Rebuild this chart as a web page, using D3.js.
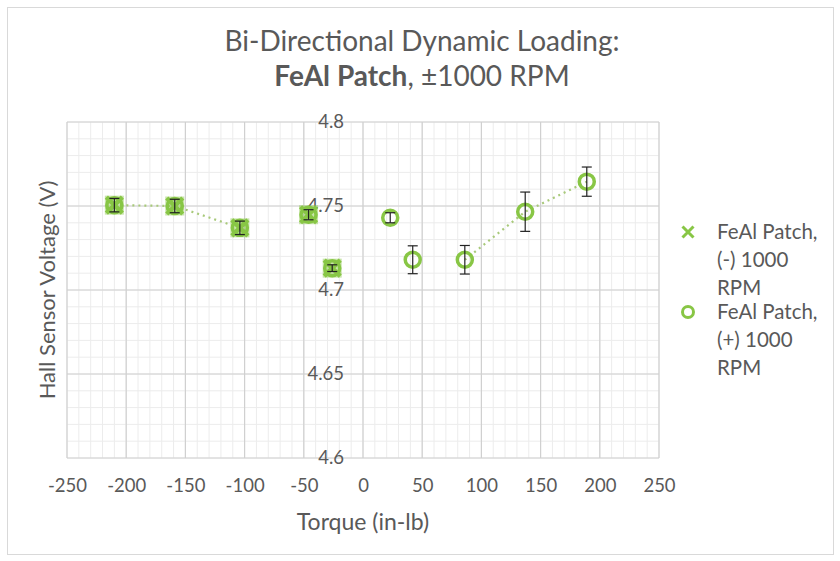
<!DOCTYPE html>
<html>
<head>
<meta charset="utf-8">
<script src="https://cdn.jsdelivr.net/npm/d3@7"></script>
<style>
  body { margin: 0; background: #fff; }
  svg { display: block; font-family: Lato, "Open Sans", sans-serif; }
</style>
</head>
<body>
<svg id="chart" width="840" height="561"></svg>
<script>
// ---- Data ----
const xTicks = [-250, -200, -150, -100, -50, 0, 50, 100, 150, 200, 250];
const xTickLabels = ["-250", "-200", "-150", "-100", "-50", "0", "50", "100", "150", "200", "250"];
const yTicks = [4.6, 4.65, 4.7, 4.75, 4.8];
const yTickLabels = ["4.6", "4.65", "4.7", "4.75", "4.8"];

// Series (-) 1000 RPM : X markers
const negTorque = [-210, -159, -104, -46, -26];
const negVoltage = [4.7505, 4.750, 4.737, 4.7448, 4.713];
const negError = [0.004, 0.004, 0.004, 0.003, 0.002];
const negLinked = [true, true, true, false, false];

// Series (+) 1000 RPM : O markers
const posTorque = [-210, -159, -104, -46, -26, 23, 42, 86, 137, 189];
const posVoltage = [4.7505, 4.750, 4.737, 4.7448, 4.713, 4.743, 4.718, 4.718, 4.7466, 4.7645];
const posError = [0.004, 0.004, 0.004, 0.003, 0.002, 0.003, 0.0083, 0.0085, 0.0117, 0.0087];
const posLinked = [false, false, false, false, false, false, false, true, true, true];

const seriesNames = [["FeAl Patch,", "(-) 1000", "RPM"], ["FeAl Patch,", "(+) 1000", "RPM"]];
const titleLine1 = "Bi-Directional Dynamic Loading:";
const titleBold = "FeAl Patch";
const titleRest = ", \u00b11000 RPM";
const xLabel = "Torque (in-lb)";
const yLabel = "Hall Sensor Voltage (V)";

// ---- Layout ----
const svg = d3.select("#chart");
const green = "#88c645";
const textColor = "#595959";
const x = d3.scaleLinear().domain([-250, 250]).range([67, 659]);
const y = d3.scaleLinear().domain([4.6, 4.8]).range([458, 122]);

// chart border
svg.append("rect").attr("x", 7.5).attr("y", 7.5).attr("width", 826).attr("height", 547)
  .attr("fill", "#fff").attr("stroke", "#d9d9d9");

// minor grid
const g = svg.append("g");
g.selectAll(".mx").data(d3.range(-250, 251, 10)).join("line")
  .attr("x1", d => x(d)).attr("x2", d => x(d)).attr("y1", y(4.6)).attr("y2", y(4.8))
  .attr("stroke", "#ececec").attr("stroke-width", 1);
g.selectAll(".my").data(d3.range(0, 21).map(i => 4.6 + i * 0.01)).join("line")
  .attr("y1", d => y(d)).attr("y2", d => y(d)).attr("x1", x(-250)).attr("x2", x(250))
  .attr("stroke", "#ececec").attr("stroke-width", 1);
// major grid
g.append("g").selectAll("line").data(xTicks).join("line")
  .attr("x1", d => x(d)).attr("x2", d => x(d)).attr("y1", y(4.6)).attr("y2", y(4.8))
  .attr("stroke", "#d0d0d0").attr("stroke-width", 1.2);
g.append("g").selectAll("line").data(yTicks).join("line")
  .attr("y1", d => y(d)).attr("y2", d => y(d)).attr("x1", x(-250)).attr("x2", x(250))
  .attr("stroke", "#d0d0d0").attr("stroke-width", 1.2);

// axes (labels only, using d3 axes)
const xAxis = svg.append("g").attr("transform", `translate(0,${y(4.6)})`)
  .call(d3.axisBottom(x).tickValues(xTicks).tickFormat((d, i) => xTickLabels[i]).tickSize(0).tickPadding(21));
xAxis.select(".domain").remove();
xAxis.selectAll("text").attr("fill", textColor).attr("font-size", 18.5).attr("font-family", "Lato, sans-serif");

const yAxis = svg.append("g").attr("transform", `translate(${x(0)},0)`)
  .call(d3.axisLeft(y).tickValues(yTicks).tickFormat((d, i) => yTickLabels[i]).tickSize(0).tickPadding(19));
yAxis.select(".domain").remove();
yAxis.selectAll("text").attr("fill", textColor).attr("font-size", 18.5).attr("font-family", "Lato, sans-serif");

// dotted connecting lines
function drawLine(tx, vy, linked) {
  const pts = tx.map((t, i) => ({ t, v: vy[i], on: linked[i] }));
  const line = d3.line().defined(d => d.on).x(d => x(d.t)).y(d => y(d.v));
  svg.append("path").attr("d", line(pts)).attr("fill", "none")
    .attr("stroke", "#a8c97a").attr("stroke-width", 2.2).attr("stroke-dasharray", "2,4");
}
drawLine(negTorque, negVoltage, negLinked);
drawLine(posTorque, posVoltage, posLinked);

// markers: circles (+)
svg.append("g").selectAll("circle").data(posTorque).join("circle")
  .attr("cx", d => x(d)).attr("cy", (d, i) => y(posVoltage[i])).attr("r", 7.5)
  .attr("fill", "none").attr("stroke", green).attr("stroke-width", 3.5);
// markers: X (-)
const xm = svg.append("g");
negTorque.forEach((t, i) => {
  const cx = x(t), cy = y(negVoltage[i]), s = 8;
  xm.append("rect").attr("x", cx - 9.5).attr("y", cy - 9.5).attr("width", 19).attr("height", 19)
    .attr("fill", green).attr("opacity", 0.45);
  xm.append("path").attr("d", `M${cx - s},${cy - s}L${cx + s},${cy + s}M${cx - s},${cy + s}L${cx + s},${cy - s}`)
    .attr("stroke", green).attr("stroke-width", 4.5);
});

// error bars
function drawErr(tx, vy, err) {
  const eg = svg.append("g").attr("stroke", "#222").attr("stroke-width", 1.2);
  tx.forEach((t, i) => {
    const cx = x(t), y1 = y(vy[i] + err[i]), y2 = y(vy[i] - err[i]);
    eg.append("line").attr("x1", cx).attr("x2", cx).attr("y1", y1).attr("y2", y2);
    eg.append("line").attr("x1", cx - 5).attr("x2", cx + 5).attr("y1", y1).attr("y2", y1);
    eg.append("line").attr("x1", cx - 5).attr("x2", cx + 5).attr("y1", y2).attr("y2", y2);
  });
}
drawErr(posTorque, posVoltage, posError);

// titles
svg.append("text").attr("x", 422).attr("y", 51).attr("text-anchor", "middle")
  .attr("fill", textColor).attr("font-size", 28).text(titleLine1);
const t2 = svg.append("text").attr("x", 422).attr("y", 86).attr("text-anchor", "middle")
  .attr("fill", textColor).attr("font-size", 28);
t2.append("tspan").attr("font-weight", "bold").text(titleBold);
t2.append("tspan").text(titleRest);

svg.append("text").attr("x", 363).attr("y", 530).attr("text-anchor", "middle")
  .attr("fill", textColor).attr("font-size", 23).text(xLabel);
svg.append("text").attr("transform", "translate(55,290) rotate(-90)").attr("text-anchor", "middle")
  .attr("fill", textColor).attr("font-size", 22).text(yLabel);

// legend
const lg = svg.append("g");
const legY = [232, 312];
seriesNames.forEach((lines, k) => {
  const cy = legY[k];
  if (k === 0) {
    const s = 5.5;
    lg.append("path").attr("d", `M${688 - s},${cy - s}L${688 + s},${cy + s}M${688 - s},${cy + s}L${688 + s},${cy - s}`)
      .attr("stroke", green).attr("stroke-width", 3);
  } else {
    lg.append("circle").attr("cx", 688).attr("cy", cy).attr("r", 5.5)
      .attr("fill", "none").attr("stroke", green).attr("stroke-width", 3);
  }
  lines.forEach((ln, j) => {
    lg.append("text").attr("x", 717).attr("y", cy + j * 28).attr("dy", "0.35em")
      .attr("fill", textColor).attr("font-size", 20.5).text(ln);
  });
});
</script>
</body>
</html>
